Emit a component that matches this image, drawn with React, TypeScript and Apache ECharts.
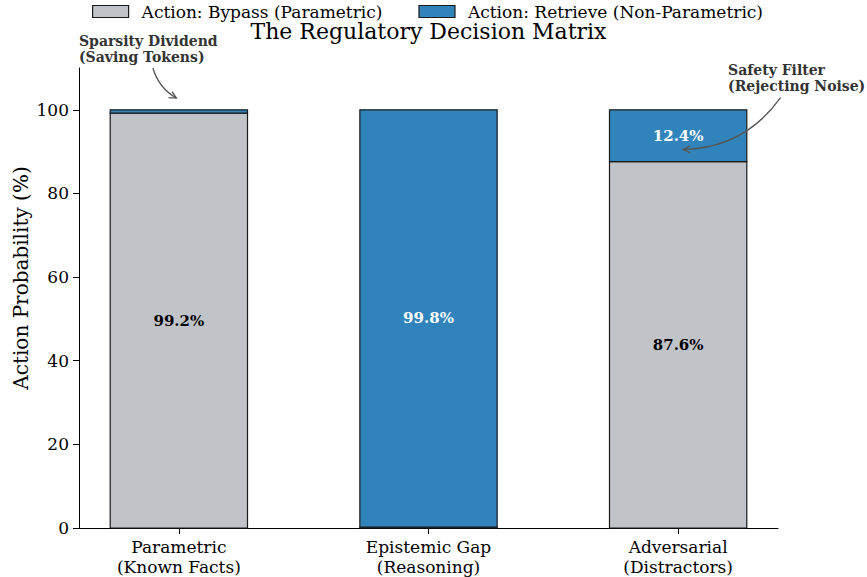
import React, { useEffect, useRef } from "react";
import * as echarts from "echarts";

const categories = ["Parametric\n(Known Facts)", "Epistemic Gap\n(Reasoning)", "Adversarial\n(Distractors)"];
const bypassValues = [99.2, 0.2, 87.6];
const retrieveValues = [0.8, 99.8, 12.4];
const yTicks = [0, 20, 40, 60, 80, 100];
const seriesNames = ["Action: Bypass (Parametric)", "Action: Retrieve (Non-Parametric)"];
const chartTitle = "The Regulatory Decision Matrix";
const yAxisTitle = "Action Probability (%)";

// annotations: text anchor (data), arrow start (data), arrow end (data), curvature
const annotations = [
  { text: "Sparsity Dividend\n(Saving Tokens)", at: [-0.4, 118.3], from: [-0.104, 110], to: [-0.01, 102.8], rad: 0.2 },
  { text: "Safety Filter\n(Rejecting Noise)", at: [2.2, 111.4], from: [2.41, 102.9], to: [2.02, 90.5], rad: -0.25 },
];

const FONT = "DejaVu Serif";
const GREY = "#c0c4c8";
const BLUE = "#3184bb";
const EDGE = "#1a1a1a";
const BAR_W = 0.55;

export default function App() {
  const ref = useRef<HTMLDivElement>(null);
  useEffect(() => {
    const chart = echarts.init(ref.current!, null, { renderer: "svg" });

    // segment data: [categoryIndex, start, end, value]
    const bypassData = bypassValues.map((v, i) => [i, 0, v, v]);
    const retrieveData = retrieveValues.map((v, i) => [i, bypassValues[i], bypassValues[i] + v, v]);

    const makeRender = (fill: string, textColor: string) => (params: any, api: any) => {
      const x = api.value(0);
      const y0 = api.value(1);
      const y1 = api.value(2);
      const v = api.value(3);
      const p0 = api.coord([x - BAR_W / 2, y1]);
      const p1 = api.coord([x + BAR_W / 2, y0]);
      const el: any = {
        type: "rect",
        shape: { x: p0[0], y: p0[1], width: p1[0] - p0[0], height: p1[1] - p0[1] },
        style: { fill, stroke: EDGE, lineWidth: 1.2 },
      };
      if (v >= 5) {
        el.textContent = {
          type: "text",
          style: {
            text: v.toFixed(1) + "%",
            fill: textColor,
            fontFamily: FONT,
            fontSize: 15,
            fontWeight: "bold",
          },
        };
        el.textConfig = { position: "inside" };
      }
      return el;
    };

    const option: any = {
      animation: false,
      title: {
        text: chartTitle,
        left: 428.5,
        textAlign: "center",
        top: 20,
        padding: 0,
        textStyle: { fontFamily: FONT, fontSize: 22, fontWeight: "normal", color: "#000" },
      },
      legend: {
        data: [
          { name: seriesNames[0], itemStyle: { color: GREY, borderColor: EDGE, borderWidth: 1.2 } },
          { name: seriesNames[1], itemStyle: { color: BLUE, borderColor: EDGE, borderWidth: 1.2 } },
        ],
        left: 92,
        top: 3,
        icon: "rect",
        itemWidth: 36,
        itemHeight: 12,
        itemGap: 36,
        padding: 0,
        textStyle: { fontFamily: FONT, fontSize: 17, color: "#000", padding: [0, 0, 0, 8] },
      },
      grid: { left: 79, right: 89, top: 68, bottom: 47, containLabel: false },
      xAxis: {
        type: "value",
        min: -0.4,
        max: 2.4,
        axisLine: { show: true, onZero: false, lineStyle: { color: "#000", width: 1 } },
        axisTick: { show: true, customValues: [0, 1, 2], length: 6, lineStyle: { color: "#000" } },
        axisLabel: {
          customValues: [0, 1, 2],
          formatter: (v: number) => categories[Math.round(v)] ?? "",
          fontFamily: FONT,
          fontSize: 17,
          color: "#000",
          lineHeight: 20,
          margin: 9,
        },
        splitLine: { show: false },
      },
      yAxis: {
        type: "value",
        min: 0,
        max: 110,
        interval: 20,
        axisLine: { show: true, onZero: false, lineStyle: { color: "#000", width: 1 } },
        axisTick: { show: true, customValues: yTicks, length: 6, lineStyle: { color: "#000" } },
        axisLabel: {
          customValues: yTicks,
          fontFamily: FONT,
          fontSize: 17,
          color: "#000",
          margin: 10,
        },
        splitLine: { show: false },
      },
      series: [
        {
          name: seriesNames[0],
          type: "custom",
          renderItem: makeRender(GREY, "#000"),
          encode: { x: 0, y: [1, 2] },
          data: bypassData,
          itemStyle: { color: GREY, borderColor: EDGE, borderWidth: 1.2 },
        },
        {
          name: seriesNames[1],
          type: "custom",
          renderItem: makeRender(BLUE, "#fff"),
          encode: { x: 0, y: [1, 2] },
          data: retrieveData,
          itemStyle: { color: BLUE, borderColor: EDGE, borderWidth: 1.2 },
        },
      ],
    };
    chart.setOption(option);

    const graphics: any[] = [];
    const origin = chart.convertToPixel({ gridIndex: 0 }, [0, 0]) as number[];
    const top = chart.convertToPixel({ gridIndex: 0 }, [0, 110]) as number[];
    graphics.push({
      type: "text",
      x: 21,
      y: (origin[1] + top[1]) / 2 - 20,
      rotation: Math.PI / 2,
      z: 10,
      style: {
        text: yAxisTitle,
        fontFamily: FONT,
        fontSize: 20,
        fill: "#000",
        align: "center",
        verticalAlign: "middle",
      },
    });
    annotations.forEach((a) => {
      const p = chart.convertToPixel({ gridIndex: 0 }, a.at) as number[];
      const s = chart.convertToPixel({ gridIndex: 0 }, a.from) as number[];
      const e = chart.convertToPixel({ gridIndex: 0 }, a.to) as number[];
      graphics.push({
        type: "text",
        x: p[0],
        y: p[1],
        z: 10,
        style: {
          text: a.text,
          fontFamily: FONT,
          fontSize: 14,
          fontWeight: "bold",
          fill: "#333",
          lineHeight: 16,
          align: "left",
          verticalAlign: "top",
        },
      });
      const dx = e[0] - s[0];
      const dy = e[1] - s[1];
      const cx = (s[0] + e[0]) / 2 - a.rad * dy;
      const cy = (s[1] + e[1]) / 2 + a.rad * dx;
      graphics.push({
        type: "bezierCurve",
        z: 10,
        shape: { x1: s[0], y1: s[1], x2: e[0], y2: e[1], cpx1: cx, cpy1: cy },
        style: { stroke: "#555", lineWidth: 1.3, fill: "none" },
      });
      const tx = e[0] - cx;
      const ty = e[1] - cy;
      const len = Math.hypot(tx, ty) || 1;
      const ux = tx / len;
      const uy = ty / len;
      const hl = 7;
      const hw = 3.5;
      graphics.push({
        type: "polyline",
        z: 10,
        shape: {
          points: [
            [e[0] - ux * hl - uy * hw, e[1] - uy * hl + ux * hw],
            [e[0], e[1]],
            [e[0] - ux * hl + uy * hw, e[1] - uy * hl - ux * hw],
          ],
        },
        style: { stroke: "#555", lineWidth: 1.3, fill: "none" },
      });
    });
    chart.setOption({ graphic: graphics });
    return () => chart.dispose();
  }, []);
  return (
    <div
      ref={ref}
      style={{ position: "absolute", left: 0, top: 0, width: 867, height: 577, background: "#fff" }}
    />
  );
}
